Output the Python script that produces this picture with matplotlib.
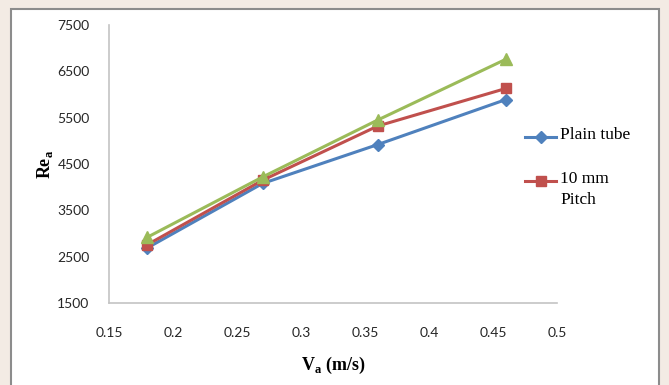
import matplotlib
matplotlib.use("Agg")
import matplotlib.pyplot as plt
from matplotlib.patches import Rectangle
from matplotlib.lines import Line2D

# ── data ────────────────────────────────────────────
velocity = [0.18, 0.27, 0.36, 0.46]
re_plain = [2690, 4080, 4920, 5890]
re_10mm = [2760, 4150, 5320, 6130]
re_other = [2920, 4220, 5450, 6760]

x_ticks = [0.15, 0.2, 0.25, 0.3, 0.35, 0.4, 0.45, 0.5]
y_ticks = [1500, 2500, 3500, 4500, 5500, 6500, 7500]

series = [
    ("Plain tube", re_plain, "#4F81BD", "D", 6.0),
    ("10 mm\nPitch", re_10mm, "#C0504D", "s", 7.0),
    (None, re_other, "#9BBB59", "^", 8.5),
]

plt.rcParams["mathtext.fontset"] = "custom"
plt.rcParams["mathtext.rm"] = "Liberation Serif"
plt.rcParams["mathtext.bf"] = "Liberation Serif:bold"

W, H = 669, 385
fig = plt.figure(figsize=(W / 100, H / 100), dpi=100)
fig.patch.set_facecolor("#f3ebe4")

# white chart area with grey frame
fig.add_artist(Rectangle((11 / W, -0.05), (659 - 11) / W, 1.05 - 9 / H,
                         transform=fig.transFigure, facecolor="white",
                         edgecolor="#8c8c8c", linewidth=1.5, zorder=0))

ax = fig.add_axes([109 / W, 1 - 303 / H, (557 - 109) / W, (303 - 25) / H])
ax.set_facecolor("none")

for label, vals, color, marker, ms in series:
    ax.plot(velocity, vals, color=color, linewidth=2.2, marker=marker,
            markersize=ms, markeredgecolor=color, clip_on=False)

ax.set_xlim(0.15, 0.5)
ax.set_ylim(1500, 7500)
ax.set_xticks(x_ticks)
ax.set_xticklabels([f"{t:g}" for t in x_ticks])
ax.set_yticks(y_ticks)
ax.tick_params(length=0, labelsize=10, labelcolor="#262626")
ax.tick_params(axis="x", pad=17)
ax.tick_params(axis="y", pad=14)
for lbl in ax.get_xticklabels() + ax.get_yticklabels():
    lbl.set_family("Lato")

for side in ("top", "right"):
    ax.spines[side].set_visible(False)
for side in ("left", "bottom"):
    ax.spines[side].set_color("#c4c4c4")
    ax.spines[side].set_linewidth(1.2)

ax.set_xlabel(r"V$_\mathregular{a}$ (m/s)", family="Liberation Serif",
              fontweight="bold", fontsize=13, labelpad=12)
ax.set_ylabel(r"Re$_\mathregular{a}$", family="Liberation Serif",
              fontweight="bold", fontsize=13, labelpad=2)

# legend keys on the right
legend_y = [137, 181]
for (label, vals, color, marker, ms), ly in zip(series[:2], legend_y):
    fy = 1 - ly / H
    fig.add_artist(Line2D([525 / W, 556 / W], [fy, fy], color=color,
                          linewidth=2.2, transform=fig.transFigure))
    fig.add_artist(Line2D([540.5 / W], [fy], color=color, marker=marker,
                          markersize=ms, transform=fig.transFigure))
    fig.text(560 / W, fy + 10 / H, label, family="Liberation Serif",
             fontsize=12.5, va="top", ha="left", color="black",
             linespacing=1.45)

fig.savefig("out.png", dpi=100, facecolor=fig.get_facecolor())
